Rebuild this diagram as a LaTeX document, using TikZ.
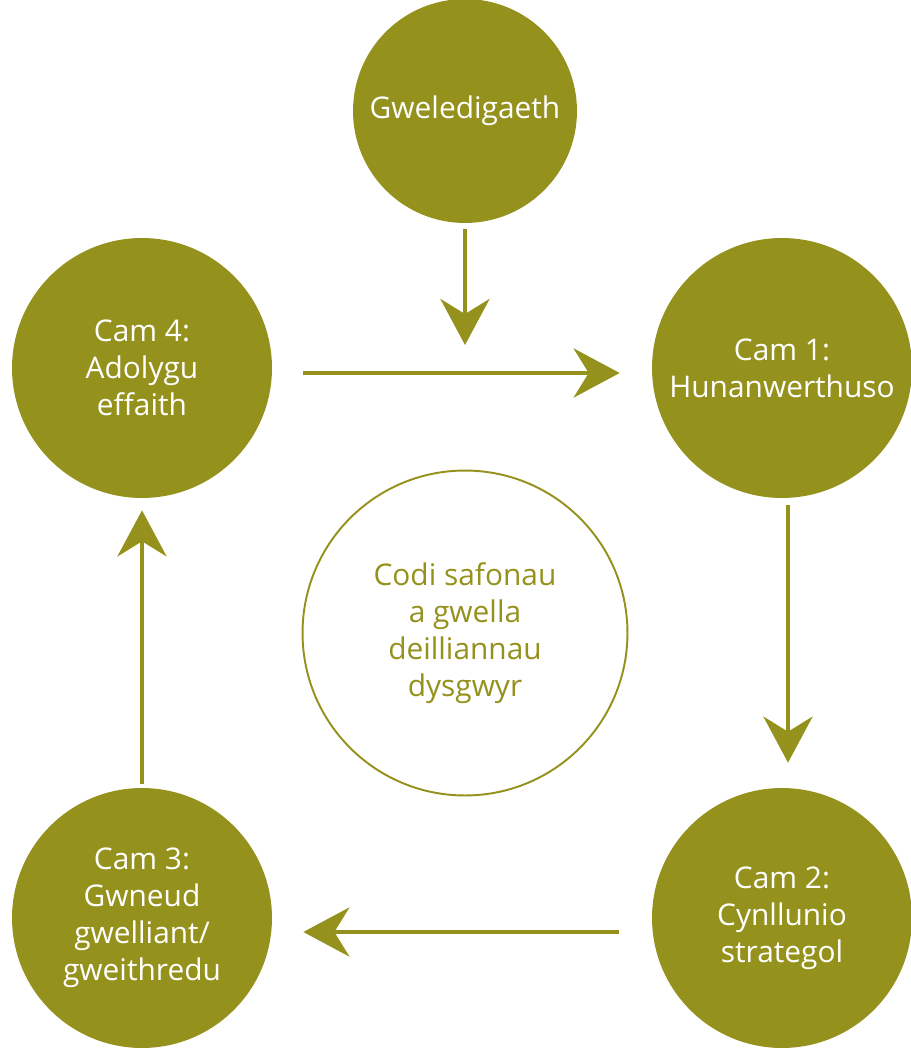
\documentclass[tikz,border=0pt]{standalone}
\usepackage{fontspec}
\setmainfont{Open Sans}
\usetikzlibrary{arrows.meta}
\definecolor{olive}{RGB}{149,145,29}

\begin{document}
\begin{tikzpicture}[x=0.02cm, y=-0.02cm,
  stage/.style={circle, fill=olive, text=white, inner sep=0pt, align=center,
    minimum size=5.2cm, font=\fontsize{17}{21}\selectfont},
  goal/.style={circle, draw=olive, line width=1.1pt, text=olive, inner sep=0pt,
    align=center, minimum size=6.5cm, font=\fontsize{17}{21}\selectfont},
  flow/.style={color=olive, line width=2.8pt,
    -{Stealth[length=0.92cm, width=0.98cm, inset=0.3cm]}}]
 \useasboundingbox (0,0) rectangle (911,1048);

 \node[stage, minimum size=4.48cm] (vision) at (465,111) {Gweledigaeth};
 \node[stage] (cam1) at (782,368) {Cam 1:\\Hunanwerthuso};
 \node[stage] (cam2) at (782,918) {Cam 2:\\Cynllunio\\strategol};
 \node[stage] (cam3) at (142,918) {Cam 3:\\Gwneud\\gwelliant/\\gweithredu};
 \node[stage] (cam4) at (142,368) {Cam 4:\\Adolygu\\effaith};
 \node[goal] (aim) at (465,633) {Codi safonau\\a gwella\\deilliannau\\dysgwyr};
 \coordinate (visend) at (465,345);

 \path[flow]
  (vision) edge[shorten <=0.12cm] (visend)
  ([yshift=-0.1cm]cam4.east) edge[shorten <=0.62cm, shorten >=0.64cm] ([yshift=-0.1cm]cam1.west)
  ([xshift=0.12cm]cam1.south) edge[shorten <=0.14cm, shorten >=0.5cm] ([xshift=0.12cm]cam2.north)
  ([yshift=-0.28cm]cam2.west) edge[shorten <=0.66cm, shorten >=0.62cm] ([yshift=-0.28cm]cam3.east)
  (cam3) edge[shorten <=0.08cm, shorten >=0.24cm] (cam4)
 ;
\end{tikzpicture}
\end{document}
